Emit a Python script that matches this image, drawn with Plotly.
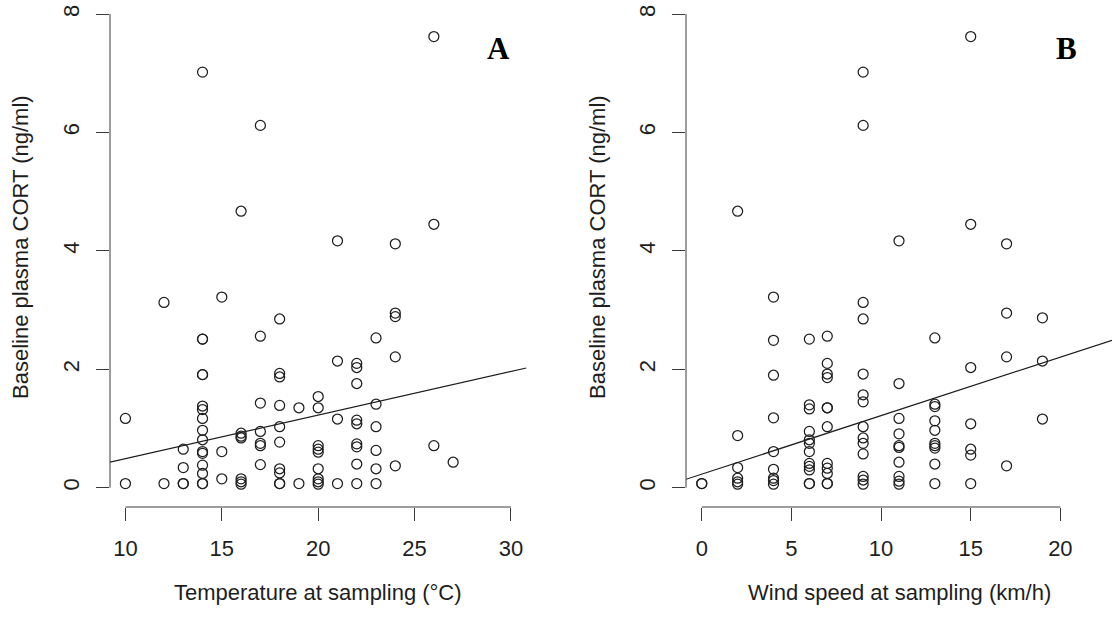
import plotly.graph_objects as go

# ---------------- data ----------------
temp_A = ([10] * 2 + [12] * 2 + [13] * 4 + [14] * 16 + [15] * 3 + [16] * 7 + [17] * 7 +
          [18] * 10 + [19] * 2 + [20] * 9 + [21] * 4 + [22] * 9 + [23] * 6 + [24] * 5 +
          [26] * 3 + [27] * 1)
cort_A = [1.17, 0.07,
          3.13, 0.07,
          0.65, 0.34, 0.07, 0.07,
          7.02, 2.51, 2.51, 1.91, 1.91, 1.38, 1.32, 1.17, 0.97, 0.81, 0.61, 0.58, 0.38, 0.24, 0.07, 0.07,
          3.22, 0.61, 0.15,
          4.67, 0.92, 0.87, 0.84, 0.15, 0.10, 0.06,
          6.12, 2.56, 1.43, 0.95, 0.75, 0.71, 0.39,
          2.85, 1.93, 1.87, 1.39, 1.03, 0.77, 0.32, 0.25, 0.07, 0.07,
          1.35, 0.07,
          1.54, 1.35, 0.71, 0.65, 0.60, 0.32, 0.15, 0.10, 0.06,
          4.17, 2.14, 1.16, 0.07,
          2.10, 2.03, 1.76, 1.14, 1.08, 0.74, 0.69, 0.40, 0.07,
          2.53, 1.41, 1.03, 0.63, 0.32, 0.07,
          4.12, 2.95, 2.89, 2.21, 0.37,
          7.62, 4.45, 0.71,
          0.43]

wind_B = ([0] * 2 + [2] * 6 + [4] * 9 + [6] * 12 + [7] * 12 + [9] * 14 + [11] * 10 +
          [13] * 10 + [15] * 7 + [17] * 4 + [19] * 3)
cort_B = [0.07, 0.07,
          4.67, 0.88, 0.34, 0.16, 0.10, 0.06,
          3.22, 2.49, 1.90, 1.18, 0.61, 0.31, 0.16, 0.12, 0.06,
          2.51, 1.40, 1.33, 0.95, 0.81, 0.75, 0.61, 0.41, 0.36, 0.30, 0.07, 0.07,
          2.56, 2.10, 1.92, 1.86, 1.35, 1.35, 1.03, 0.41, 0.33, 0.24, 0.07, 0.07,
          7.02, 6.12, 3.13, 2.85, 1.92, 1.57, 1.45, 1.03, 0.84, 0.75, 0.57, 0.19, 0.13, 0.06,
          4.17, 1.76, 1.17, 0.91, 0.71, 0.68, 0.43, 0.19, 0.11, 0.06,
          2.53, 1.41, 1.37, 1.13, 0.97, 0.75, 0.71, 0.67, 0.40, 0.07,
          7.62, 4.45, 2.03, 1.08, 0.65, 0.55, 0.07,
          4.12, 2.95, 2.21, 0.37,
          2.87, 2.14, 1.16]

# fitted regression lines (intercept, slope)
fit_A = (-0.245, 0.0736)
fit_B = (0.229, 0.0988)

x_ticks_A = [10, 15, 20, 25, 30]
x_ticks_B = [0, 5, 10, 15, 20]
y_ticks = [0, 2, 4, 6, 8]

x_title_A = "Temperature at sampling (°C)"
x_title_B = "Wind speed at sampling (km/h)"
y_title = "Baseline plasma CORT (ng/ml)"

# ---------------- layout geometry ----------------
W, H = 1113, 620
MB = 113
PH = H - MB
xr_A = [9.2, 30.8]
xr_B = [-0.88, 22.88]
yr = [-0.326, 8.238]
dom_A = [110 / W, 526.4 / W]
dom_B = [686 / W, 1112 / W]

FONT = "Liberation Sans, Arial, sans-serif"
AX = "#3a3a3a"
INK = "#1e1e1e"
FS = 22

fig = go.Figure()

marker = dict(symbol="circle-open", size=10, color=INK, line=dict(width=1.25, color=INK))
fig.add_trace(go.Scatter(x=temp_A, y=cort_A, mode="markers", marker=marker,
                         xaxis="x", yaxis="y", showlegend=False))
fig.add_trace(go.Scatter(x=wind_B, y=cort_B, mode="markers", marker=marker,
                         xaxis="x2", yaxis="y2", showlegend=False))

fig.add_trace(go.Scatter(x=xr_A, y=[fit_A[0] + fit_A[1] * v for v in xr_A], mode="lines",
                         line=dict(color=INK, width=1.2), xaxis="x", yaxis="y", showlegend=False))
fig.add_trace(go.Scatter(x=xr_B, y=[fit_B[0] + fit_B[1] * v for v in xr_B], mode="lines",
                         line=dict(color=INK, width=1.2), xaxis="x2", yaxis="y2", showlegend=False))

tickfont = dict(family=FONT, size=FS, color=INK)
common_x = dict(showgrid=False, zeroline=False, showline=False, ticks="outside", ticklen=13,
                tickwidth=1, tickcolor=AX, tickfont=tickfont, ticklabelstandoff=9)
common_y = dict(showgrid=False, zeroline=False, showline=False, ticks="outside", ticklen=13,
                tickwidth=1, tickcolor=AX, tickfont=tickfont, tickangle=-90, range=yr,
                tickvals=y_ticks, ticktext=[str(v) for v in y_ticks], ticklabelstandoff=8)

fig.update_layout(
    width=W, height=H,
    margin=dict(l=0, r=0, t=0, b=MB),
    paper_bgcolor="white", plot_bgcolor="white",
    xaxis=dict(domain=dom_A, range=xr_A, tickvals=x_ticks_A,
               ticktext=[str(v) for v in x_ticks_A], anchor="y", **common_x),
    yaxis=dict(domain=[0, 1], anchor="x", **common_y),
    xaxis2=dict(domain=dom_B, range=xr_B, tickvals=x_ticks_B,
                ticktext=[str(v) for v in x_ticks_B], anchor="y2", **common_x),
    yaxis2=dict(domain=[0, 1], anchor="x2", **common_y),
)

# R-style axis lines spanning only first..last tick
shapes = []
for xa, ya, xt, dom in (("x", "y", x_ticks_A, dom_A), ("x2", "y2", x_ticks_B, dom_B)):
    shapes.append(dict(type="line", xref=xa, yref="paper", x0=xt[0], x1=xt[-1], y0=0, y1=0,
                       line=dict(color=AX, width=1)))
    shapes.append(dict(type="line", xref="paper", yref=ya, x0=dom[0], x1=dom[0],
                       y0=y_ticks[0], y1=y_ticks[-1], line=dict(color=AX, width=1)))
fig.update_layout(shapes=shapes)

def py(pix):  # pixel row -> paper y
    return (PH - pix) / PH

def px(pix):
    return pix / W

title_font = dict(family=FONT, size=FS, color=INK)
ann = [
    dict(text=x_title_A, x=(dom_A[0] + dom_A[1]) / 2, y=py(592), xref="paper", yref="paper",
         showarrow=False, font=title_font, xanchor="center", yanchor="middle"),
    dict(text=x_title_B, x=(dom_B[0] + dom_B[1]) / 2, y=py(592), xref="paper", yref="paper",
         showarrow=False, font=title_font, xanchor="center", yanchor="middle"),
    dict(text=y_title, x=px(20), y=py(247), xref="paper", yref="paper", textangle=-90,
         showarrow=False, font=title_font, xanchor="center", yanchor="middle"),
    dict(text=y_title, x=px(597), y=py(247), xref="paper", yref="paper", textangle=-90,
         showarrow=False, font=title_font, xanchor="center", yanchor="middle"),
    dict(text="<b>A</b>", x=px(498), y=py(48.5), xref="paper", yref="paper", showarrow=False,
         font=dict(family="Liberation Serif, Times New Roman, serif", size=31, color="black"),
         xanchor="center", yanchor="middle"),
    dict(text="<b>B</b>", x=px(1066), y=py(48), xref="paper", yref="paper", showarrow=False,
         font=dict(family="Liberation Serif, Times New Roman, serif", size=31, color="black"),
         xanchor="center", yanchor="middle"),
]
fig.update_layout(annotations=ann)

fig.write_html("out.html")
